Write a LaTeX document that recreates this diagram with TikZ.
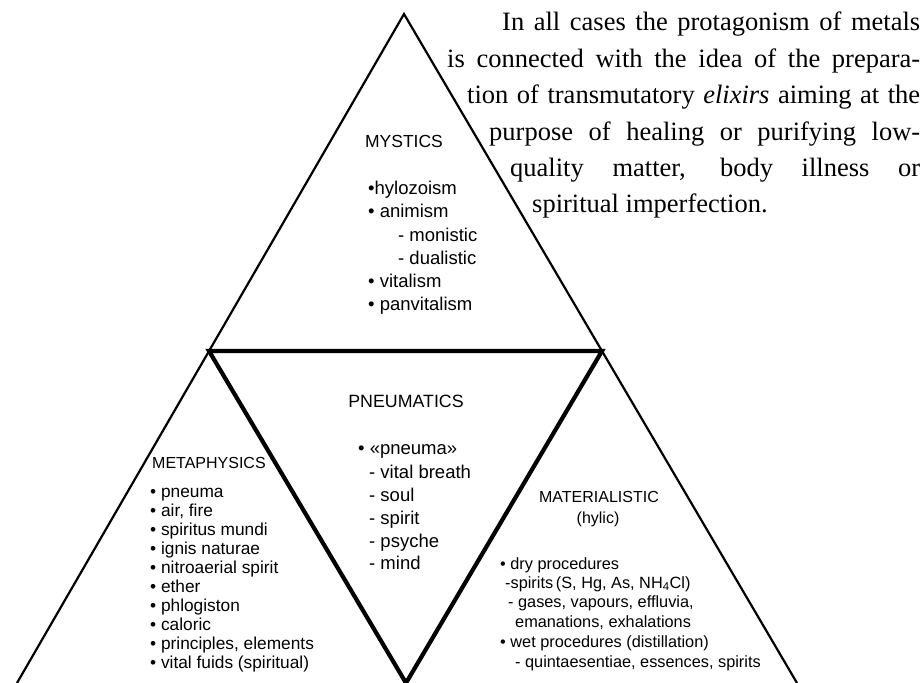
\documentclass[tikz,border=0pt]{standalone}
\usepackage{fontspec}
\newfontfamily\dsans{Liberation Sans}
\newfontfamily\dserif{Liberation Serif}
\newcommand{\fs}[1]{\dsans\fontsize{#1}{#1}\selectfont}
\begin{document}
\begin{tikzpicture}[x=1pt,y=-1pt,
  outerline/.style={line width=2.2pt, line join=miter},
  innerline/.style={line width=4.2pt, line join=miter},
  head/.style={inner sep=0pt, anchor=base},
  item/.style={inner sep=0pt, anchor=base west},
  prose/.style={inner sep=0pt, anchor=base west, font=\dserif\fontsize{26.5}{30}\selectfont}]
\useasboundingbox (0,0) rectangle (922,683);
% geometry
\coordinate (A) at (404,14);
\coordinate (BL) at (17,683);
\coordinate (BR) at (797,683);
\coordinate (V1) at (209,351);
\coordinate (V2) at (602,351);
\coordinate (V3) at (406,683);
\draw[outerline] (BL) -- (A) -- (BR);
\draw[innerline] (V1) -- (V2) -- (V3) -- cycle;
% prose
\node[prose] (p1) at (502,30) {\makebox[418pt][s]{In all cases the protagonism of metals}};
\node[prose] (p2) at (447,67) {\makebox[473pt][s]{is connected with the idea of the prepara-}};
\node[prose] (p3) at (467,103) {\makebox[453pt][s]{tion of transmutatory \textit{elixirs} aiming at the}};
\node[prose] (p4) at (489,140) {\makebox[431pt][s]{purpose of healing or purifying low-}};
\node[prose] (p5) at (510,176) {\makebox[410pt][s]{quality matter, body illness or}};
\node[prose] (p6) at (532,212) {spiritual imperfection.};
% MYSTICS
\node[head, font=\fs{17.5}] (mys) at (404,147) {MYSTICS};
\begin{scope}[every node/.style={item, font=\fs{18.5}}]
\node (my1) at (368,194) {•hylozoism};
\node (my2) at (368,217) {• animism};
\node (my3) at (398,241) {- monistic};
\node (my4) at (398,264) {- dualistic};
\node (my5) at (368,287) {• vitalism};
\node (my6) at (368,310) {• panvitalism};
\end{scope}
% PNEUMATICS
\node[head, font=\fs{17.8}] (pn) at (406,407) {PNEUMATICS};
\begin{scope}[every node/.style={item, font=\fs{18.5}}]
\node (pn1) at (358,454) {• «pneuma»};
\node (pn2) at (369,478) {- vital breath};
\node (pn3) at (369,501) {- soul};
\node (pn4) at (369,524) {- spirit};
\node (pn5) at (369,547) {- psyche};
\node (pn6) at (369,569) {- mind};
\end{scope}
% METAPHYSICS
\node[item, font=\fs{16}] (me) at (152,468) {METAPHYSICS};
\begin{scope}[every node/.style={item, font=\fs{17.3}}]
\node (me1) at (150,497) {• pneuma};
\node (me2) at (150,516) {• air, fire};
\node (me3) at (150,535) {• spiritus mundi};
\node (me4) at (150,554) {• ignis naturae};
\node (me5) at (150,573) {• nitroaerial spirit};
\node (me6) at (150,592) {• ether};
\node (me7) at (150,611) {• phlogiston};
\node (me8) at (150,630) {• caloric};
\node (me9) at (150,649) {• principles, elements};
\node (me10) at (150,668) {• vital fuids (spiritual)};
\end{scope}
% MATERIALISTIC
\node[head, font=\fs{16}] (ma) at (599,502) {MATERIALISTIC};
\node[head, font=\fs{16}] (mah) at (598,523) {(hylic)};
\begin{scope}[every node/.style={item, font=\fs{16.3}}]
\node (ma1) at (500,569) {• dry procedures};
\node (ma2) at (505,588) {-spirits\,(S, Hg, As, NH\textsubscript{4}Cl)};
\node (ma3) at (508,607) {- gases, vapours, effluvia,};
\node (ma4) at (515,627) {emanations, exhalations};
\node (ma5) at (500,647) {• wet procedures (distillation)};
\node (ma6) at (515,667) {- quintaesentiae, essences, spirits};
\end{scope}
\end{tikzpicture}
\end{document}
